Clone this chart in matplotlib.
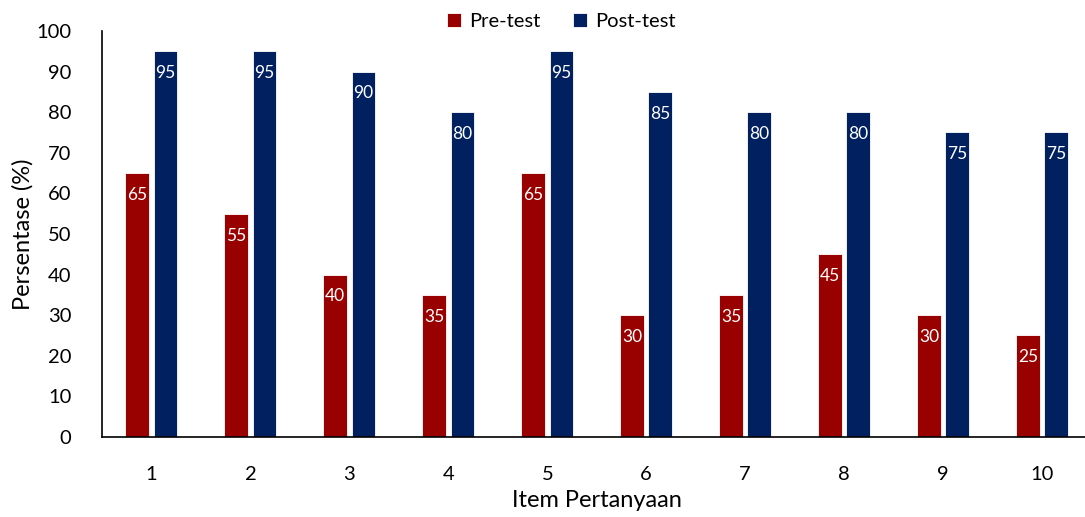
import matplotlib.pyplot as plt
import numpy as np

plt.rcParams['font.family'] = ['Lato', 'DejaVu Sans']

items = ['1', '2', '3', '4', '5', '6', '7', '8', '9', '10']
pre_test = [65, 55, 40, 35, 65, 30, 35, 45, 30, 25]
post_test = [95, 95, 90, 80, 95, 85, 80, 80, 75, 75]
y_ticks = [0, 10, 20, 30, 40, 50, 60, 70, 80, 90, 100]

red = '#990000'
navy = '#002060'

fig = plt.figure(figsize=(10.85, 5.17), dpi=100)
ax = fig.add_axes([0.094, 0.155, 0.912, 0.785])

x = np.arange(len(items))
w = 0.24
gap = 0.045
bars_pre = ax.bar(x - w / 2 - gap / 2, pre_test, w, color=red, edgecolor='white',
                  linewidth=0.6, label='Pre-test')
bars_post = ax.bar(x + w / 2 + gap / 2, post_test, w, color=navy, edgecolor='white',
                   linewidth=0.6, label='Post-test')

for bars in (bars_pre, bars_post):
    for b in bars:
        ax.annotate(f'{int(b.get_height())}',
                    (b.get_x() + b.get_width() / 2, b.get_height()),
                    xytext=(0, -10), textcoords='offset points',
                    ha='center', va='top', color='white', fontsize=12.5)

ax.set_xlim(-0.5, len(items) - 0.5)
ax.set_ylim(0, 100)
ax.set_yticks(y_ticks)
ax.set_xticks(x)
ax.set_xticklabels(items)
ax.tick_params(axis='both', length=0, labelsize=14.5)
ax.tick_params(axis='x', pad=21)
ax.tick_params(axis='y', pad=22)

for s in ['top', 'right']:
    ax.spines[s].set_visible(False)
ax.spines['left'].set_linewidth(1.2)
ax.spines['bottom'].set_linewidth(1.2)

ax.set_xlabel('Item Pertanyaan', fontsize=17, labelpad=5)
ax.set_ylabel('Persentase (%)', fontsize=17, labelpad=2)

ax.legend(loc='upper center', bbox_to_anchor=(0.464, 1.09), ncol=2, frameon=False,
          fontsize=14.5, handlelength=0.7, handleheight=0.7, handletextpad=0.4,
          columnspacing=1.6)

fig.savefig('out.png', dpi=100)
